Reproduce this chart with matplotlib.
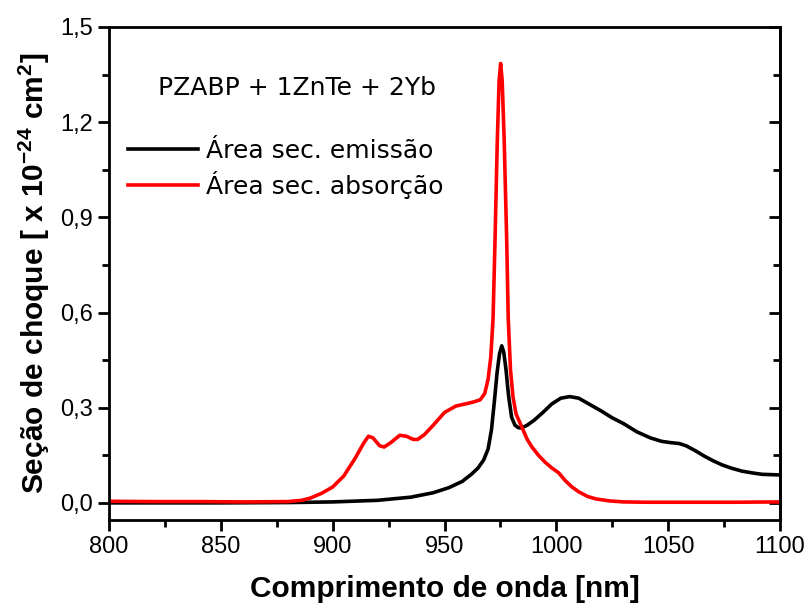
import matplotlib.pyplot as plt
from matplotlib.ticker import MultipleLocator, FuncFormatter

plt.rcParams['font.family'] = ['Liberation Sans', 'DejaVu Sans']
plt.rcParams['mathtext.fontset'] = 'custom'
plt.rcParams['mathtext.bf'] = 'Liberation Sans:bold'
plt.rcParams['mathtext.rm'] = 'Liberation Sans'

# absorption cross-section (red)
wl_abs = [800, 820, 840, 860, 880, 886, 890, 895, 900, 905, 910, 914, 916, 918,
          921, 923, 926, 930, 933, 936, 938, 941, 945, 950, 955, 960, 963, 966,
          968, 969.5, 970.7, 971.7, 972.6, 973.6, 974.4, 975.1, 975.8, 976.7,
          977.8, 978.5, 979.5, 980.6, 982, 984.5, 987, 989, 992, 995, 998, 1001,
          1004, 1007, 1010, 1014, 1018, 1024, 1030, 1040, 1060, 1080, 1100]
sigma_abs = [0.005, 0.004, 0.004, 0.003, 0.004, 0.008, 0.015, 0.03, 0.05, 0.085,
             0.14, 0.19, 0.21, 0.205, 0.18, 0.176, 0.19, 0.213, 0.21, 0.2, 0.2,
             0.215, 0.245, 0.285, 0.305, 0.313, 0.318, 0.325, 0.345, 0.39, 0.46,
             0.58, 0.83, 1.14, 1.33, 1.385, 1.33, 1.14, 0.83, 0.58, 0.42, 0.335,
             0.28, 0.24, 0.2, 0.177, 0.15, 0.128, 0.11, 0.095, 0.07, 0.05, 0.035,
             0.02, 0.012, 0.006, 0.003, 0.002, 0.002, 0.002, 0.003]

# emission cross-section (black)
wl_em = [800, 850, 880, 900, 920, 935, 945, 952, 958, 962, 965, 967.5, 969.5,
         971, 972.3, 973.5, 974.6, 975.6, 976.5, 977.5, 978.6, 980, 981.5,
         983, 984.5, 987, 990, 994, 998, 1002, 1006, 1010, 1015, 1020, 1025,
         1030, 1036, 1042, 1047, 1051, 1055, 1058, 1062, 1066, 1070, 1074, 1078,
         1083, 1088, 1092, 1096, 1100]
sigma_em = [0.0, 0.0, 0.001, 0.003, 0.008, 0.018, 0.032, 0.048, 0.068, 0.09,
            0.11, 0.135, 0.17, 0.23, 0.32, 0.41, 0.47, 0.495, 0.475, 0.42,
            0.34, 0.27, 0.245, 0.237, 0.236, 0.245, 0.26, 0.285, 0.312, 0.33,
            0.335, 0.33, 0.31, 0.29, 0.268, 0.25, 0.224, 0.205, 0.194, 0.19,
            0.187, 0.18, 0.165, 0.148, 0.133, 0.12, 0.11, 0.1, 0.094, 0.09,
            0.089, 0.088]

fig = plt.figure(figsize=(8.09, 6.09), dpi=100)
ax = fig.add_axes([109 / 809, 1 - 520 / 609, 671 / 809, 493 / 609])

ax.plot(wl_em, sigma_em, color="black", lw=2.6, label="Área sec. emissão")
ax.plot(wl_abs, sigma_abs, color="red", lw=2.6, label="Área sec. absorção")

ax.set_xlim(800, 1100)
ax.set_ylim(-0.054, 1.5)
ax.xaxis.set_major_locator(MultipleLocator(50))
ax.xaxis.set_minor_locator(MultipleLocator(25))
ax.yaxis.set_major_locator(MultipleLocator(0.3))
ax.yaxis.set_minor_locator(MultipleLocator(0.15))
ax.yaxis.set_major_formatter(FuncFormatter(lambda v, p: f"{v:.1f}".replace(".", ",")))

for s in ax.spines.values():
    s.set_linewidth(2)
ax.tick_params(which="both", width=2, labelsize=17, direction="out",
               right=False, top=False)
ax.tick_params(which="major", length=8)
ax.tick_params(which="minor", length=5)

# right axis: ticks pointing inwards, no labels
sec = ax.secondary_yaxis("right")
sec.yaxis.set_major_locator(MultipleLocator(0.3))
sec.yaxis.set_minor_locator(MultipleLocator(0.15))
sec.tick_params(which="both", direction="in", width=2, labelright=False)
sec.tick_params(which="major", length=8)
sec.tick_params(which="minor", length=5)
sec.spines["right"].set_linewidth(2)

ax.set_xlabel("Comprimento de onda [nm]", fontsize=21.5, fontweight="bold", labelpad=12)
ax.set_ylabel(r"Seção de choque [ x 10$^{\mathbf{-24}}$ cm$^{\mathbf{2}}$]",
              fontsize=21.5, fontweight="bold", labelpad=6)

fig.text(158 / 809, 1 - 88 / 609, "PZABP + 1ZnTe + 2Yb", fontsize=18,
         family=["DejaVu Sans"], va="center")
ax.legend(loc="upper left", bbox_to_anchor=(-0.005, 0.818), frameon=False,
          prop={"family": "DejaVu Sans", "size": 18}, handlelength=2.8,
          handletextpad=0.32, labelspacing=0.3)

fig.savefig("out.png", dpi=100)
